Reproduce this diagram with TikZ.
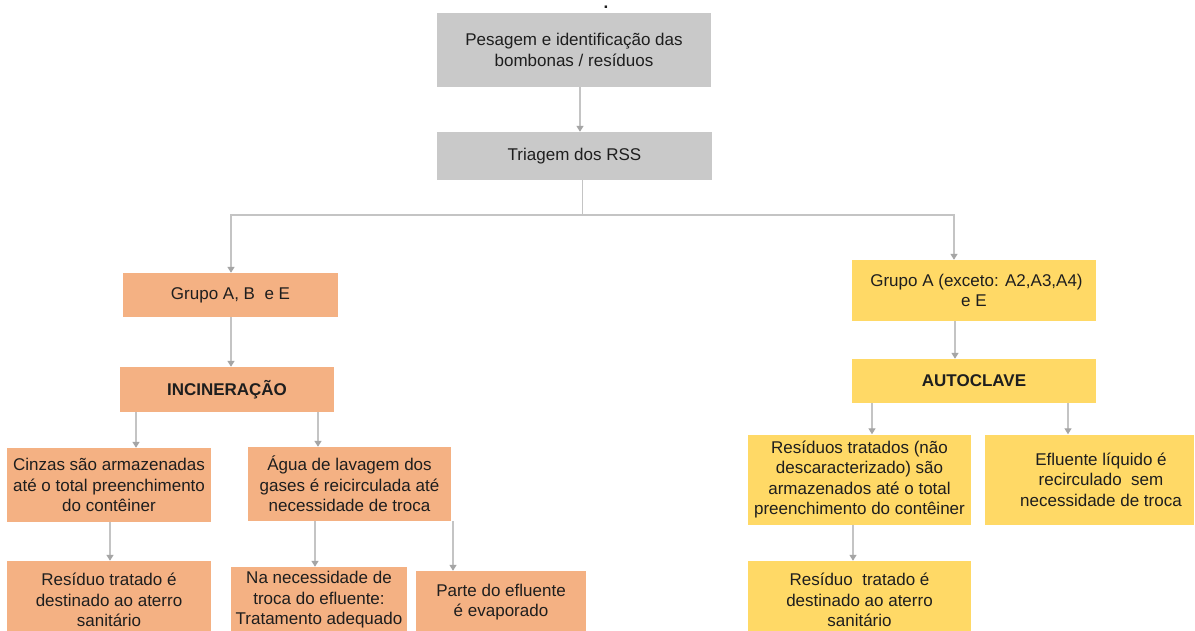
\documentclass[tikz,border=0pt]{standalone}
\usepackage{fontspec}
\setmainfont{Liberation Sans}
\usetikzlibrary{arrows.meta,calc}
\definecolor{gbox}{HTML}{C9C9C9}
\definecolor{obox}{HTML}{F4B183}
\definecolor{ybox}{HTML}{FFD966}
\definecolor{lnc}{HTML}{C4C4C4}
\definecolor{tipc}{HTML}{A5A5A5}
\definecolor{txt}{HTML}{1E1E1E}
\begin{document}
\begin{tikzpicture}[x=1pt,y=-1pt,
  every node/.style={font=\fontsize{17}{20.5}\selectfont, text=txt},
  box/.style={inner sep=0pt, align=center},
  gbx/.style={box, fill=gbox},
  obx/.style={box, fill=obox},
  ybx/.style={box, fill=ybox},
  ln/.style={draw=lnc, line width=1.3pt},
  arr/.style={ln, -{Triangle[width=7pt,length=6pt,color=tipc]}}]
\useasboundingbox (0,0) rectangle (1195,631);
\clip (0,0) rectangle (1195,631);
\fill[white] (0,0) rectangle (1195,631);
% top dot
\node[anchor=base, inner sep=0pt, font=\fontsize{17}{20.5}\selectfont\bfseries] (dot) at (606,9) {.};
% gray
\node[gbx, minimum width=274pt, minimum height=74pt] (b1) at (574,50) {Pesagem e identificação das\\bombonas / resíduos};
\node[gbx, minimum width=275pt, minimum height=48pt] (b2) at (574.5,156) {Triagem dos RSS};
% left branch
\node[obx, minimum width=215pt, minimum height=44pt] (g1) at (230.5,295) {Grupo A, B\ \ e E};
\node[obx, minimum width=214pt, minimum height=45pt, font=\fontsize{17}{20.5}\selectfont\bfseries] (inc) at (227,389.5) {INCINERAÇÃO};
\node[obx, minimum width=204pt, minimum height=74pt] (cin) at (109,485) {Cinzas são armazenadas\\até o total preenchimento\\do contêiner};
\node[obx, minimum width=203pt, minimum height=74pt] (agua) at (349.5,484) {Água de lavagem dos\\gases é reicirculada até\\necessidade de troca};
\node[obx, minimum width=204pt, minimum height=78pt] (res1) at (109,600) {Resíduo tratado é\\destinado ao aterro\\sanitário};
\node[obx, minimum width=176pt, minimum height=66pt] (na) at (319,600) {Na necessidade de\\troca do efluente:\\Tratamento adequado};
\node[obx, minimum width=170pt, minimum height=62pt] (parte) at (501,602) {Parte do efluente\\é evaporado};
% right branch
\node[ybx, minimum width=244pt, minimum height=61pt] (ga) at (974,290.5) {\hspace*{5pt}Grupo A (exceto: A2,A3,A4)\\e E};
\node[ybx, minimum width=244pt, minimum height=44pt, font=\fontsize{17}{20.5}\selectfont\bfseries] (auto) at (974,381) {AUTOCLAVE};
\node[ybx, minimum width=223pt, minimum height=90pt] (rt) at (859.5,479.5) {Resíduos tratados (não\\descaracterizado) são\\armazenados até o total\\preenchimento do contêiner};
\node[ybx, minimum width=209pt, minimum height=90pt] (ef) at (1089.5,479.5) {};
\node[box] (eft) at ([xshift=11.5pt]ef.center) {Efluente líquido é\\recirculado\ \ sem\\necessidade de troca};
\node[ybx, minimum width=223pt, minimum height=78pt] (rt2) at (859.5,600) {Resíduo\ \ tratado é\\destinado ao aterro\\sanitário};
% connectors
\draw[arr] ([xshift=6pt]b1.south) -- ([xshift=6pt]b1.south |- b2.north);
\coordinate (sp) at ([xshift=8pt]b2.south |- 0,215);
\draw[ln] ([xshift=8pt]b2.south) -- (sp);
\draw[arr] (sp) -| ([xshift=0.5pt]g1.north);
\draw[arr] (sp) -| ([xshift=-20pt]ga.north);
\draw[arr] ([xshift=0.5pt]g1.south) -- ([xshift=0.5pt]g1.south |- inc.north);
\draw[arr] ([xshift=-91pt]inc.south) -- ([xshift=-91pt]inc.south |- cin.north);
\draw[arr] ([xshift=91pt]inc.south) -- ([xshift=91pt]inc.south |- agua.north);
\draw[arr] ([xshift=1pt]cin.south) -- ([xshift=1pt]cin.south |- res1.north);
\draw[arr] ([xshift=-34.5pt]agua.south) -- ([xshift=-34.5pt]agua.south |- na.north);
\draw[arr] ([xshift=103.5pt]agua.south) -- ([xshift=103.5pt]agua.south |- parte.north);
\draw[arr] ([xshift=-19pt]ga.south) -- ([xshift=-19pt]ga.south |- auto.north);
\draw[arr] ([xshift=-102pt]auto.south) -- ([xshift=-102pt]auto.south |- rt.north);
\draw[arr] ([xshift=94pt]auto.south) -- ([xshift=94pt]auto.south |- ef.north);
\draw[arr] ([xshift=-6.5pt]rt.south) -- ([xshift=-6.5pt]rt.south |- rt2.north);
\end{tikzpicture}
\end{document}
